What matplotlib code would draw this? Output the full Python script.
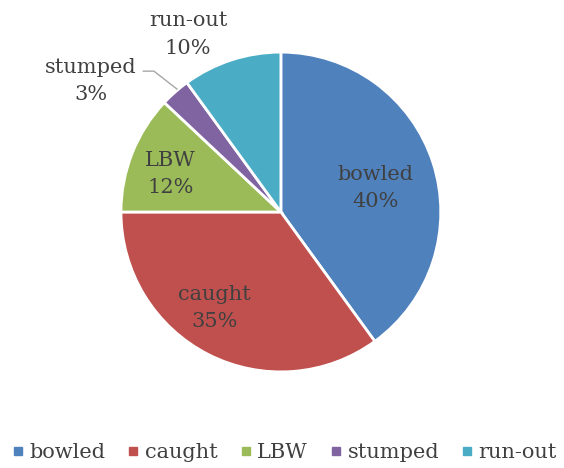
import numpy as np
import matplotlib.pyplot as plt
from matplotlib.lines import Line2D

categories = ['bowled', 'caught', 'LBW', 'stumped', 'run-out']
shares = [40, 35, 12, 3, 10]
colors = ['#4F81BD', '#C0504D', '#9BBB59', '#8064A2', '#4BACC6']

plt.rcParams['font.family'] = ['DejaVu Serif']
txt_col = '#404040'
fs = 15
ls = 1.55

fig = plt.figure(figsize=(5.64, 4.68), dpi=100)
ax = fig.add_axes([0.2145, 0.205, 0.567, 0.684])

wedges, _ = ax.pie(shares, colors=colors, startangle=90, counterclock=False,
                   wedgeprops=dict(edgecolor='white', linewidth=2))
ax.set_xlim(-1, 1)
ax.set_ylim(-1, 1)
ax.set_aspect('equal')

# inside labels: (radius fraction, angle shift in deg) like excel best fit
inside = {'bowled': (0.61, -3.7), 'caught': (0.73, -7.5), 'LBW': (0.73, 2.6)}
for w, name, val in zip(wedges, categories, shares):
    if name in inside:
        r, shift = inside[name]
        mid = np.deg2rad((w.theta1 + w.theta2) / 2 + shift)
        ax.text(r * np.cos(mid), r * np.sin(mid), f'{name}\n{val}%',
                ha='center', va='center', fontsize=fs, color=txt_col,
                linespacing=ls)

# outside labels
ax.text(-0.58, 1.11, f'run-out\n{shares[4]}%', ha='center', va='center',
        fontsize=fs, color=txt_col, linespacing=ls, clip_on=False)
ax.text(-1.19, 0.82, f'stumped\n{shares[3]}%', ha='center', va='center',
        fontsize=fs, color=txt_col, linespacing=ls, clip_on=False)
ax.plot([-0.86, -0.794, -0.65], [0.881, 0.881, 0.769], color='#A6A6A6',
        lw=1, clip_on=False)

handles = [Line2D([], [], marker='s', ls='none', color=c, markersize=5.5)
           for c in colors]
fig.legend(handles, categories, loc='center', ncol=5, frameon=False,
           fontsize=fs, labelcolor=txt_col, bbox_to_anchor=(0.505, 0.033),
           handletextpad=0.3, columnspacing=1.1, handlelength=0.5)

fig.savefig('out.png', dpi=100)
